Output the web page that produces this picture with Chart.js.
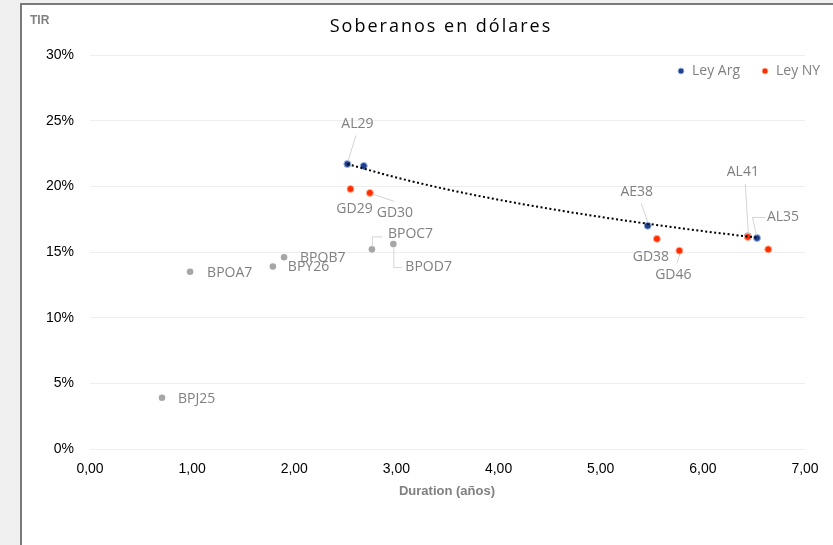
<!DOCTYPE html>
<html>
<head>
<meta charset="utf-8">
<script src="https://cdn.jsdelivr.net/npm/chart.js@4.4.1/dist/chart.umd.min.js"></script>
<style>
  html, body { margin:0; padding:0; width:833px; height:545px; overflow:hidden; background:#f0f0f0; }
  #frame { position:absolute; left:20px; top:3px; width:813px; height:542px; background:#fff;
           border-left:2px solid #7a7a7a; border-top:2px solid #7a7a7a; box-sizing:border-box; }
  #c { position:absolute; left:0; top:0; }
</style>
</head>
<body>
<div id="frame"></div>
<canvas id="c" width="833" height="545"></canvas>
<script>
// ---- Data ----
const titleText = 'Soberanos en dólares';
const yAxisTitle = 'TIR';
const xAxisTitle = 'Duration (años)';
const seriesNames = ['Ley Arg', 'Ley NY'];

const argLabels = ['AL29', '', 'AE38', 'AL41', 'AL35'];
const argDur    = [2.52, 2.68, 5.46, 6.44, 6.53];
const argTir    = [21.7, 21.55, 17.0, 16.2, 16.07];

const nyLabels  = ['GD29', 'GD30', 'GD38', 'GD46', '', ''];
const nyDur     = [2.55, 2.74, 5.55, 5.77, 6.44, 6.64];
const nyTir     = [19.8, 19.5, 16.0, 15.1, 16.15, 15.2];

const otherLabels = ['BPJ25', 'BPOA7', 'BPY26', 'BPOB7', 'BPOC7', 'BPOD7'];
const otherDur    = [0.705, 0.98, 1.79, 1.90, 2.76, 2.97];
const otherTir    = [3.9, 13.5, 13.9, 14.6, 15.2, 15.6];

const trendDur = [2.52, 3.0, 3.5, 4.0, 4.5, 5.0, 5.5, 6.0, 6.53];
const trendTir = [21.7, 20.67, 19.76, 18.98, 18.29, 17.67, 17.11, 16.59, 16.1];

const xTicks = [0, 1, 2, 3, 4, 5, 6, 7];
const yTicks = [0, 5, 10, 15, 20, 25, 30];

// ---- Label placement styles (pixel offsets from the point) ----
const labelStyle = {
  AL29:  { dx: 10,  dy: -40, align: 'center', leader: [[8, -29], [0, -3]] },
  AE38:  { dx: -11, dy: -34, align: 'center', leader: [[-7, -23], [0, -3]] },
  AL41:  { dx: -5,  dy: -64, align: 'center', leader: [[-3, -53], [0, -3]] },
  AL35:  { dx: 26,  dy: -21, align: 'center', leader: [[8, -21], [-5, -21], [-1, -3]] },
  GD29:  { dx: 4,   dy: 20,  align: 'center' },
  GD30:  { dx: 25,  dy: 20,  align: 'center', leader: [[3, 1], [24, 8]] },
  GD38:  { dx: -6,  dy: 18,  align: 'center' },
  GD46:  { dx: -6,  dy: 24,  align: 'center', leader: [[-3, 12], [0, 3]] },
  BPJ25: { dx: 16,  dy: 1,   align: 'left' },
  BPOA7: { dx: 17,  dy: 1,   align: 'left' },
  BPY26: { dx: 15,  dy: 1,   align: 'left' },
  BPOB7: { dx: 16,  dy: 1,   align: 'left' },
  BPOC7: { dx: 16,  dy: -15, align: 'left', leader: [[0, -3], [0, -13], [10, -13]] },
  BPOD7: { dx: 12,  dy: 23,  align: 'left', leader: [[0, 3], [0, 23], [8, 23]] }
};

const toPts = (xs, ys) => xs.map((x, i) => ({ x: x, y: ys[i] }));
const GRAY_TXT = '#808080';
const LABEL_FONT = '14px "Open Sans", "Liberation Sans", sans-serif';

const decorPlugin = {
  id: 'decor',
  afterDatasetsDraw(chart) {
    const ctx = chart.ctx;
    const xs = chart.scales.x, ys = chart.scales.y;
    ctx.save();
    // Title
    ctx.fillStyle = '#000';
    ctx.font = '18px "Open Sans", "Liberation Sans", sans-serif';
    ctx.letterSpacing = '2px';
    ctx.textAlign = 'center';
    ctx.textBaseline = 'middle';
    ctx.fillText(titleText, 441, 27);
    ctx.letterSpacing = '0px';
    // Axis titles
    ctx.fillStyle = GRAY_TXT;
    ctx.font = 'bold 12px "Liberation Sans", sans-serif';
    ctx.textAlign = 'left';
    ctx.fillText(yAxisTitle, 30, 21);
    ctx.font = 'bold 13px "Liberation Sans", sans-serif';
    ctx.textAlign = 'center';
    ctx.fillText(xAxisTitle, 447, 491);

    // Point labels + leader lines
    const groups = [
      [argLabels, argDur, argTir],
      [nyLabels, nyDur, nyTir],
      [otherLabels, otherDur, otherTir]
    ];
    ctx.font = LABEL_FONT;
    groups.forEach(([labels, dur, tir]) => {
      labels.forEach((lab, i) => {
        if (!lab) return;
        const st = labelStyle[lab] || { dx: 12, dy: 0, align: 'left' };
        const px = xs.getPixelForValue(dur[i]);
        const py = ys.getPixelForValue(tir[i]);
        if (st.leader) {
          ctx.strokeStyle = '#d4d4d4';
          ctx.lineWidth = 1;
          ctx.beginPath();
          st.leader.forEach((p, k) => {
            const lx = px + p[0] + 0.5, ly = py + p[1] + 0.5;
            if (k === 0) ctx.moveTo(lx, ly); else ctx.lineTo(lx, ly);
          });
          ctx.stroke();
        }
        ctx.fillStyle = GRAY_TXT;
        ctx.textAlign = st.align;
        ctx.textBaseline = 'middle';
        ctx.fillText(lab, px + st.dx, py + st.dy);
      });
    });

    // Legend
    const legendItems = [
      { name: seriesNames[0], fill: '#1f3e8c', stroke: '#9db7e6', x: 681 },
      { name: seriesNames[1], fill: '#ff2d00', stroke: '#ffb39a', x: 765 }
    ];
    legendItems.forEach(it => {
      ctx.beginPath();
      ctx.arc(it.x, 71, 3, 0, Math.PI * 2);
      ctx.fillStyle = it.fill;
      ctx.fill();
      ctx.lineWidth = 1;
      ctx.strokeStyle = it.stroke;
      ctx.stroke();
      ctx.fillStyle = GRAY_TXT;
      ctx.textAlign = 'left';
      ctx.textBaseline = 'middle';
      ctx.font = LABEL_FONT;
      ctx.fillText(it.name, it.x + 11, 71);
    });
    ctx.restore();
  }
};

new Chart(document.getElementById('c'), {
  type: 'scatter',
  data: {
    datasets: [
      {
        label: 'Tendencia', type: 'line', data: toPts(trendDur, trendTir),
        borderColor: '#000', borderWidth: 2, borderDash: [2, 2.5], pointRadius: 0,
        cubicInterpolationMode: 'monotone', fill: false, order: 0
      },
      {
        label: seriesNames[0], data: toPts(argDur, argTir),
        pointBackgroundColor: '#1f3e8c', pointBorderColor: '#9db7e6', pointBorderWidth: 1,
        pointRadius: 3.5, order: 2
      },
      {
        label: seriesNames[1], data: toPts(nyDur, nyTir),
        pointBackgroundColor: '#ff2d00', pointBorderColor: '#ffb39a', pointBorderWidth: 1,
        pointRadius: 3.5, order: 1
      },
      {
        label: 'Otros', data: toPts(otherDur, otherTir),
        pointBackgroundColor: '#a6a6a6', pointBorderColor: '#a6a6a6', pointBorderWidth: 0,
        pointRadius: 3.3, order: 3
      }
    ]
  },
  options: {
    responsive: false,
    animation: false,
    devicePixelRatio: 1,
    layout: { padding: { left: 30, right: 28, top: 55, bottom: 0 } },
    plugins: { legend: { display: false }, title: { display: false }, tooltip: { enabled: false } },
    scales: {
      x: {
        type: 'linear', min: xTicks[0], max: xTicks[xTicks.length - 1],
        afterBuildTicks: s => { s.ticks = xTicks.map(v => ({ value: v })); },
        ticks: {
          callback: v => v.toFixed(2).replace('.', ','),
          color: '#000', font: { size: 14, family: '"Liberation Sans", sans-serif' }, padding: 4,
          maxRotation: 0, autoSkip: false
        },
        grid: { display: false }, border: { display: false },
        afterFit: s => { s.height = 96; }
      },
      y: {
        min: yTicks[0], max: yTicks[yTicks.length - 1],
        afterBuildTicks: s => { s.ticks = yTicks.map(v => ({ value: v })); },
        ticks: {
          callback: v => v + '%',
          color: '#000', font: { size: 14, family: '"Liberation Sans", sans-serif' }, padding: 16
        },
        grid: { color: '#eeeeee', drawTicks: false }, border: { display: false },
        afterFit: s => { s.width = 60; }
      }
    }
  },
  plugins: [decorPlugin]
});
</script>
</body>
</html>
